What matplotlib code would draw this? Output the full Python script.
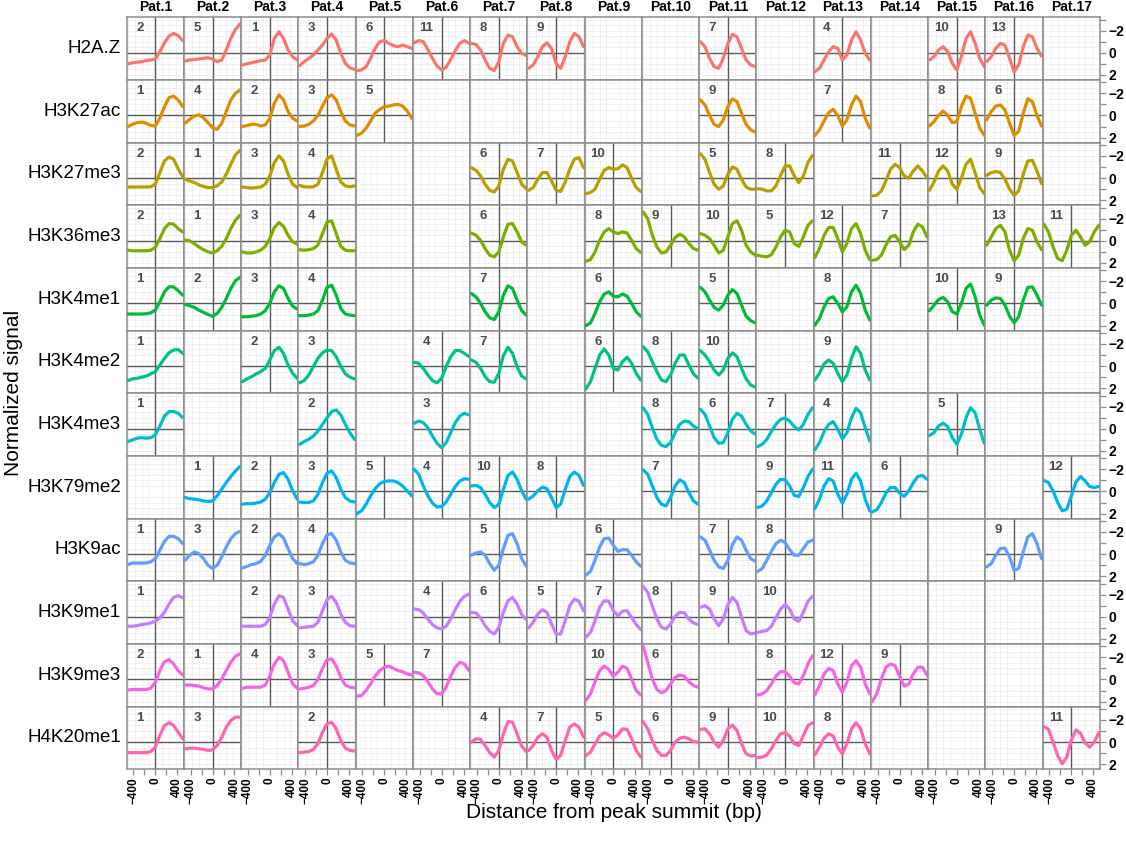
import matplotlib
matplotlib.use("Agg")
import matplotlib.pyplot as plt

plt.rcParams['font.family'] = ['Liberation Sans', 'DejaVu Sans']

# sample positions (bp) along each profile
x_bp = [-500, -417, -333, -250, -167, -83, 0, 83, 167, 250, 333, 417, 500]

patients = ['Pat.%d' % i for i in range(1, 18)]
marks = ['H2A.Z', 'H3K27ac', 'H3K27me3', 'H3K36me3', 'H3K4me1', 'H3K4me2',
         'H3K4me3', 'H3K79me2', 'H3K9ac', 'H3K9me1', 'H3K9me3', 'H4K20me1']
colors = ['#F8766D', '#DE8C00', '#B79F00', '#7CAE00', '#00BA38', '#00C08B',
          '#00BFC4', '#00B4F0', '#619CFF', '#C77CFF', '#F564E3', '#FF64B0']

# {patient: (pattern number, signal)}
h2az = {
    1: (2, [1.0, 0.9, 0.85, 0.8, 0.7, 0.65, 0.55, -0.1, -0.9, -1.5, -1.75, -1.55, -1.1]),
    2: (5, [0.75, 0.65, 0.6, 0.55, 0.5, 0.45, 0.55, 0.8, 0.65, -0.25, -1.3, -2.1, -2.6]),
    3: (1, [1.1, 1.0, 0.9, 0.8, 0.72, 0.65, 0.2, -1.3, -1.9, -1.3, -0.25, 0.35, 0.65]),
    4: (3, [1.15, 0.8, 0.5, 0.2, -0.25, -0.7, -1.3, -1.7, -1.15, 0.05, 0.95, 1.35, 1.5]),
    5: (6, [1.6, 1.55, 1.25, 0.5, -0.4, -1.0, -1.1, -0.85, -0.65, -0.55, -0.7, -0.55, -0.4]),
    6: (11, [-0.9, -1.1, -1.0, -0.3, 0.5, 1.2, 1.55, 1.3, 0.6, -0.2, -0.85, -1.1, -0.85]),
    7: (8, [-0.85, -0.75, -0.25, 0.65, 1.4, 1.6, 0.8, -0.85, -1.6, -1.45, -0.55, 0.05, 0.25]),
    8: (9, [1.4, 1.1, 0.35, -0.55, -0.9, -0.4, 0.95, 1.4, 0.35, -1.0, -1.75, -1.45, -0.55]),
    11: (7, [-1.0, -0.55, 0.5, 1.25, 1.4, 0.5, -0.85, -1.65, -1.45, -0.4, 0.65, 1.1, 1.25]),
    13: (4, [1.7, 1.4, 0.65, -0.1, -0.55, -0.4, 0.65, 0.2, -1.15, -1.9, -1.15, 0.05, 0.65]),
    15: (10, [0.65, 0.35, -0.25, -0.55, -0.1, 0.95, 1.55, 0.35, -1.3, -1.9, -0.85, 0.5, 1.25]),
    16: (13, [0.8, 0.35, -0.4, -0.85, -0.7, 0.5, 1.7, 1.1, -0.55, -1.6, -1.45, -0.4, 0.3]),
}
h3k27ac = {
    1: (1, [1.0, 0.8, 0.65, 0.6, 0.7, 0.9, 0.95, 0.25, -0.8, -1.6, -1.75, -1.4, -0.8]),
    2: (4, [0.7, 0.35, 0.05, -0.05, 0.2, 0.65, 1.1, 1.25, 0.7, -0.35, -1.4, -2.0, -2.3]),
    3: (2, [1.0, 0.9, 0.8, 0.8, 0.95, 0.85, 0.25, -1.1, -1.85, -1.4, -0.35, 0.25, 0.5]),
    4: (3, [1.0, 0.95, 0.8, 0.5, 0.0, -0.85, -1.6, -1.85, -1.4, -0.35, 0.5, 0.85, 0.95]),
    5: (5, [1.8, 1.6, 1.15, 0.5, -0.2, -0.55, -0.8, -0.85, -0.95, -1.0, -0.85, -0.4, 0.25]),
    11: (9, [-1.4, -0.95, 0.0, 0.8, 1.0, 0.4, -0.8, -1.5, -1.25, -0.2, 0.8, 1.3, 1.5]),
    13: (7, [1.8, 1.3, 0.5, -0.25, -0.55, 0.0, 0.95, 0.4, -0.95, -1.75, -1.25, 0.25, 1.15]),
    15: (8, [0.95, 0.55, 0.0, -0.4, 0.0, 0.65, 0.55, -0.8, -1.75, -1.55, -0.2, 1.15, 1.8]),
    16: (6, [0.4, -0.35, -0.85, -0.95, -0.5, 0.7, 1.8, 1.45, -0.2, -1.5, -1.25, 0.0, 0.95]),
}
h3k27me3 = {
    1: (2, [0.8, 0.8, 0.8, 0.8, 0.8, 0.78, 0.55, -0.5, -1.55, -1.9, -1.7, -0.85, -0.1]),
    2: (1, [0.1, 0.25, 0.4, 0.6, 0.75, 0.85, 0.85, 0.7, 0.35, -0.35, -1.25, -2.1, -2.5]),
    3: (3, [0.8, 0.85, 0.9, 0.85, 0.8, 0.55, -0.2, -1.4, -2.0, -1.55, -0.35, 0.55, 0.85]),
    4: (4, [0.65, 0.78, 0.8, 0.78, 0.55, -0.5, -1.75, -2.0, -0.8, 0.35, 0.7, 0.78, 0.7]),
    7: (6, [-0.95, -0.7, -0.2, 0.55, 1.1, 1.25, 0.7, -0.8, -1.7, -1.55, -0.5, 0.55, 0.95]),
    8: (7, [1.1, 0.85, 0.1, -0.5, -0.5, 0.25, 1.1, 1.2, 0.35, -0.8, -1.7, -1.85, -0.95]),
    9: (10, [1.4, 1.3, 1.0, 0.1, -0.7, -0.95, -0.8, -0.85, -1.2, -0.95, 0.0, 0.85, 1.2]),
    11: (5, [-2.2, -1.7, -0.5, 0.55, 1.0, 0.7, -0.35, -1.0, -0.8, 0.1, 0.8, 1.0, 1.0]),
    12: (8, [0.95, 1.0, 1.15, 1.15, 0.7, -0.25, -1.1, -1.1, -0.2, 0.4, -0.2, -1.4, -2.05]),
    14: (11, [1.6, 1.55, 1.15, 0.25, -0.8, -1.25, -0.95, -0.2, 0.0, -0.65, -1.1, -0.65, 0.0]),
    15: (12, [1.1, 0.35, -0.65, -1.1, -0.65, 0.55, 1.0, 0.0, -1.25, -1.7, -0.5, 0.85, 1.4]),
    16: (9, [-0.25, -0.5, -0.6, -0.5, 0.1, 1.0, 1.55, 1.15, -0.35, -1.55, -1.6, -0.65, 0.5]),
}
h3k36me3 = {
    1: (2, [0.85, 0.9, 0.9, 0.9, 0.9, 0.85, 0.6, -0.2, -1.1, -1.55, -1.5, -1.1, -0.8]),
    2: (1, [-0.05, 0.0, 0.25, 0.55, 0.8, 1.0, 1.1, 0.9, 0.5, -0.2, -1.1, -1.85, -2.3]),
    3: (3, [1.0, 1.1, 1.1, 1.0, 0.85, 0.5, -0.2, -1.2, -1.65, -1.3, -0.5, 0.1, 0.3]),
    4: (4, [0.8, 0.85, 0.8, 0.7, 0.4, -0.65, -1.7, -1.8, -0.65, 0.5, 0.85, 0.9, 0.9]),
    7: (6, [-0.7, -0.5, -0.05, 0.7, 1.3, 1.45, 1.0, -0.35, -1.5, -1.55, -0.8, 0.1, 0.4]),
    9: (8, [1.85, 1.7, 1.0, -0.05, -0.8, -1.1, -0.8, -0.65, -0.8, -0.7, -0.05, 0.7, 1.05]),
    10: (9, [-2.6, -2.0, -0.5, 0.55, 1.1, 1.0, 0.4, -0.3, -0.6, -0.35, 0.25, 0.7, 0.85]),
    11: (10, [-0.65, -0.5, -0.2, 0.4, 1.1, 0.85, -0.35, -1.55, -1.8, -0.95, 0.4, 1.0, 1.3]),
    12: (5, [1.3, 1.4, 1.45, 1.25, 0.55, -0.35, -0.95, -0.8, 0.25, 0.5, -0.35, -1.4, -1.8]),
    13: (12, [1.5, 0.7, -0.5, -1.2, -1.2, -0.2, 1.0, 0.25, -1.1, -1.55, -0.65, 0.85, 1.7]),
    14: (7, [1.75, 1.7, 1.3, 0.4, -0.35, -0.5, 0.1, 0.8, 0.4, -0.8, -1.5, -1.25, -0.35]),
    16: (13, [0.4, -0.35, -1.1, -1.4, -0.8, 0.85, 1.8, 1.3, -0.2, -1.1, -0.95, 0.1, 0.8]),
    17: (11, [-1.5, -0.8, 0.55, 1.6, 1.8, 0.85, -0.5, -0.95, -0.35, 0.4, 0.1, -0.8, -1.4]),
}
h3k4me1 = {
    1: (1, [0.95, 0.95, 0.95, 0.95, 0.93, 0.85, 0.6, -0.15, -1.05, -1.5, -1.5, -1.15, -0.75]),
    2: (2, [0.1, 0.2, 0.35, 0.6, 0.8, 1.0, 1.15, 0.9, 0.35, -0.45, -1.35, -2.05, -2.35]),
    3: (3, [1.2, 1.2, 1.15, 1.1, 0.95, 0.65, 0.0, -1.05, -1.6, -1.35, -0.45, 0.25, 0.5]),
    4: (4, [1.1, 1.1, 1.05, 0.95, 0.65, -0.3, -1.45, -1.65, -0.75, 0.45, 0.95, 1.05, 1.1]),
    7: (7, [-0.9, -0.6, 0.0, 0.75, 1.3, 1.45, 0.75, -0.75, -1.6, -1.35, -0.3, 0.65, 1.05]),
    9: (6, [2.0, 1.75, 0.9, -0.15, -0.85, -1.05, -0.65, -0.6, -0.85, -0.65, 0.0, 0.75, 1.15]),
    11: (5, [-1.45, -1.05, -0.3, 0.35, 0.6, 0.15, -0.75, -1.25, -0.9, 0.15, 1.15, 1.55, 1.75]),
    13: (8, [1.95, 1.35, 0.3, -0.45, -0.6, 0.0, 0.75, 0.3, -1.05, -1.65, -0.9, 0.6, 1.5]),
    15: (10, [0.65, 0.15, -0.35, -0.55, -0.15, 0.75, 0.95, 0.0, -1.35, -1.75, -0.6, 1.05, 1.95]),
    16: (9, [0.15, -0.3, -0.5, -0.45, 0.15, 1.15, 1.75, 1.2, -0.3, -1.45, -1.5, -0.75, 0.15]),
}
h3k4me2 = {
    1: (1, [1.3, 1.15, 1.1, 1.0, 0.9, 0.7, 0.5, -0.1, -0.7, -1.2, -1.45, -1.5, -1.15]),
    3: (2, [1.4, 1.15, 0.95, 0.7, 0.5, 0.2, -0.55, -1.4, -1.7, -1.15, -0.1, 0.65, 1.1]),
    4: (3, [1.5, 1.3, 0.8, 0.05, -0.7, -1.2, -1.45, -1.4, -0.85, 0.0, 0.7, 1.0, 1.15]),
    6: (4, [-0.35, -0.25, 0.2, 0.8, 1.3, 1.5, 1.1, 0.05, -0.85, -1.4, -1.4, -1.15, -0.85]),
    7: (7, [-0.55, -0.35, 0.2, 0.95, 1.4, 1.45, 0.65, -0.95, -1.7, -1.15, 0.05, 0.9, 1.15]),
    9: (6, [2.05, 1.4, 0.2, -1.0, -1.55, -1.0, 0.2, 0.35, -0.4, -0.8, -0.25, 0.65, 1.25]),
    10: (8, [-1.75, -1.3, -0.4, 0.5, 1.25, 1.4, 0.8, -0.25, -1.0, -1.0, -0.1, 0.7, 1.1]),
    11: (10, [-1.4, -1.0, -0.4, 0.35, 0.8, 0.35, -0.7, -1.2, -0.85, 0.2, 1.15, 1.7, 1.9]),
    13: (9, [1.25, 0.65, -0.2, -0.55, -0.25, 0.65, 1.4, 0.8, -0.7, -1.75, -1.15, 0.35, 1.25]),
}
h3k4me3 = {
    1: (1, [1.15, 1.0, 0.85, 0.8, 0.85, 0.8, 0.55, -0.25, -1.15, -1.55, -1.55, -1.4, -1.0]),
    4: (2, [1.4, 1.15, 0.95, 0.65, 0.2, -0.4, -1.0, -1.55, -1.7, -1.25, -0.4, 0.35, 0.95]),
    6: (3, [-0.5, -0.7, -0.55, -0.1, 0.65, 1.3, 1.7, 1.25, 0.35, -0.55, -1.15, -1.4, -1.25]),
    10: (8, [-1.9, -1.3, -0.1, 0.95, 1.5, 1.6, 1.25, 0.35, -0.4, -0.7, -0.65, -0.25, 0.0]),
    11: (6, [-1.75, -1.3, -0.25, 0.8, 1.3, 1.25, 0.35, -0.85, -1.4, -1.15, -0.4, 0.2, 0.5]),
    12: (7, [1.6, 1.4, 0.95, 0.25, -0.4, -0.85, -0.95, -0.7, -0.2, 0.1, -0.4, -1.3, -1.9]),
    13: (4, [1.9, 1.25, 0.25, -0.4, -0.65, 0.05, 0.9, 0.35, -1.0, -1.85, -1.45, -0.1, 1.1]),
    15: (5, [0.6, 0.35, -0.25, -0.5, -0.2, 0.8, 1.4, 0.5, -1.0, -1.9, -1.45, 0.05, 1.3]),
}
h3k79me2 = {
    2: (1, [0.55, 0.65, 0.7, 0.75, 0.85, 0.9, 0.85, 0.4, -0.2, -0.8, -1.35, -1.85, -2.25]),
    3: (2, [1.15, 1.1, 1.1, 1.05, 0.95, 0.7, 0.1, -0.8, -1.55, -1.7, -1.1, -0.05, 0.7]),
    4: (3, [0.95, 1.0, 1.0, 0.85, 0.25, -0.8, -1.65, -1.85, -1.25, -0.2, 0.55, 0.85, 0.95]),
    5: (5, [2.0, 1.75, 1.15, 0.4, -0.25, -0.7, -0.9, -0.95, -0.95, -0.8, -0.5, -0.05, 0.4]),
    6: (4, [-2.0, -1.55, -0.5, 0.4, 1.05, 1.4, 1.35, 0.95, 0.25, -0.45, -0.95, -1.15, -1.1]),
    7: (10, [-0.5, -0.55, -0.35, 0.25, 1.0, 1.45, 1.15, -0.2, -1.45, -1.75, -1.1, -0.05, 0.7]),
    8: (8, [0.7, 0.4, -0.05, -0.4, -0.25, 0.55, 1.45, 1.15, -0.2, -1.35, -1.75, -1.45, -0.55]),
    10: (7, [-1.95, -1.55, -0.5, 0.55, 1.15, 1.3, 0.55, -0.5, -1.05, -0.8, 0.1, 0.85, 1.15]),
    12: (9, [1.45, 1.3, 0.85, 0.1, -0.65, -1.1, -1.05, -0.5, 0.35, 0.45, -0.35, -1.35, -2.0]),
    13: (11, [1.55, 0.7, -0.5, -1.15, -0.95, 0.25, 1.05, 0.25, -1.1, -1.65, -0.95, 0.7, 1.75]),
    14: (6, [1.85, 1.65, 1.0, 0.15, -0.35, -0.35, 0.15, 0.45, -0.05, -0.8, -1.35, -1.45, -1.1]),
    17: (12, [-1.0, -0.8, -0.05, 1.0, 1.75, 1.6, 0.4, -0.85, -1.35, -0.95, -0.45, -0.35, -0.45]),
}
h3k9ac = {
    1: (1, [0.95, 0.8, 0.8, 0.8, 0.8, 0.7, 0.4, -0.35, -1.15, -1.6, -1.6, -1.4, -0.95]),
    2: (3, [0.55, 0.1, -0.2, -0.05, 0.4, 1.0, 1.3, 1.0, 0.25, -0.65, -1.4, -1.85, -2.05]),
    3: (2, [1.25, 1.1, 0.95, 0.85, 0.65, 0.1, -0.8, -1.55, -1.85, -1.45, -0.5, 0.4, 0.85]),
    4: (4, [0.85, 0.95, 0.85, 0.7, 0.1, -0.95, -1.75, -1.85, -1.25, -0.2, 0.55, 0.8, 0.85]),
    7: (5, [0.1, -0.1, -0.2, 0.1, 0.85, 1.45, 1.0, -0.5, -1.7, -1.85, -0.95, 0.4, 1.1]),
    9: (6, [1.9, 1.55, 0.55, -0.65, -1.4, -1.45, -0.8, -0.25, -0.4, -0.4, 0.1, 0.7, 1.1]),
    11: (7, [-1.55, -1.25, -0.35, 0.55, 1.15, 1.3, 0.55, -0.85, -1.55, -1.25, -0.35, 0.4, 0.65]),
    12: (8, [1.55, 1.3, 0.55, -0.25, -0.95, -1.25, -1.05, -0.4, 0.1, 0.1, -0.5, -1.1, -1.25]),
    16: (9, [1.15, 0.85, 0.1, -0.5, -0.55, 0.25, 1.45, 1.3, -0.2, -1.55, -1.85, -0.95, 0.4]),
}
h3k9me1 = {
    1: (1, [0.85, 0.85, 0.8, 0.7, 0.65, 0.55, 0.4, 0.1, -0.4, -1.15, -1.75, -1.9, -1.7]),
    3: (2, [0.85, 0.85, 0.85, 0.85, 0.85, 0.7, 0.05, -1.15, -1.9, -1.75, -0.7, 0.35, 0.8]),
    4: (3, [1.0, 0.95, 0.9, 0.85, 0.5, -0.55, -1.55, -1.85, -1.3, -0.25, 0.5, 0.8, 0.85]),
    6: (4, [-0.7, -0.65, -0.35, 0.2, 0.7, 1.0, 1.1, 0.85, 0.2, -0.65, -1.4, -1.85, -2.05]),
    7: (6, [-0.4, -0.35, 0.1, 0.8, 1.3, 1.55, 0.95, -0.4, -1.45, -1.75, -1.15, -0.2, 0.25]),
    8: (5, [1.0, 0.5, -0.25, -0.65, -0.4, 0.65, 1.55, 1.55, 0.35, -1.0, -1.6, -1.4, -0.55]),
    9: (7, [1.85, 1.4, 0.35, -0.85, -1.45, -1.4, -0.55, -0.1, -0.5, -0.55, 0.05, 0.7, 1.15]),
    10: (8, [-2.75, -2.2, -0.95, 0.2, 0.95, 1.1, 0.65, -0.05, -0.4, -0.35, 0.2, 0.55, 0.7]),
    11: (9, [-0.85, -1.0, -0.7, 0.2, 0.8, 0.2, -1.1, -1.75, -1.3, 0.05, 1.25, 1.55, 1.45]),
    12: (10, [1.4, 1.3, 1.25, 0.85, 0.1, -0.7, -1.1, -0.7, 0.2, 0.4, -0.4, -1.4, -1.85]),
}
h3k9me3 = {
    1: (2, [0.95, 0.9, 0.9, 0.9, 0.9, 0.8, 0.25, -0.8, -1.6, -1.8, -1.4, -0.8, -0.4]),
    2: (1, [0.5, 0.5, 0.55, 0.6, 0.75, 0.85, 0.85, 0.55, -0.05, -0.8, -1.55, -2.1, -2.3]),
    3: (4, [0.8, 0.7, 0.7, 0.7, 0.7, 0.5, -0.3, -1.4, -2.0, -1.7, -0.65, 0.4, 0.8]),
    4: (3, [0.85, 0.8, 0.7, 0.55, 0.0, -1.0, -1.8, -1.85, -1.2, -0.2, 0.5, 0.7, 0.75]),
    5: (5, [1.5, 1.45, 1.0, 0.4, -0.3, -0.8, -1.1, -1.2, -1.0, -0.8, -0.7, -0.5, -0.4]),
    6: (7, [-0.65, -0.6, -0.35, 0.2, 0.85, 1.3, 1.3, 0.7, -0.3, -1.1, -1.55, -1.4, -0.8]),
    9: (10, [1.9, 1.3, 0.2, -0.8, -1.2, -0.9, -0.3, -0.65, -1.2, -1.0, -0.05, 1.0, 1.4]),
    10: (6, [-3.0, -1.55, -0.05, 0.9, 1.2, 1.0, 0.4, -0.2, -0.4, -0.3, 0.2, 0.55, 0.7]),
    12: (8, [1.4, 1.3, 1.0, 0.4, -0.3, -0.7, -0.7, -0.3, 0.3, 0.4, -0.35, -1.4, -2.15]),
    13: (12, [1.4, 0.55, -0.5, -1.0, -0.8, 0.4, 1.15, 0.25, -1.25, -1.7, -1.1, 0.4, 1.3]),
    14: (9, [2.0, 1.3, -0.05, -1.1, -1.4, -1.25, -0.3, 0.6, 0.4, -0.5, -1.1, -1.1, -0.4]),
}
h4k20me1 = {
    1: (1, [0.95, 0.95, 0.95, 0.95, 0.95, 0.85, 0.45, -0.6, -1.5, -1.75, -1.5, -0.9, -0.3]),
    2: (3, [0.6, 0.55, 0.55, 0.6, 0.65, 0.75, 0.7, 0.3, -0.45, -1.35, -1.95, -2.25, -2.25]),
    4: (2, [0.95, 0.9, 0.85, 0.65, 0.15, -0.9, -1.65, -1.8, -1.2, -0.15, 0.55, 0.75, 0.8]),
    7: (4, [0.0, -0.3, -0.25, 0.3, 0.95, 1.35, 0.75, -0.75, -1.85, -1.8, -0.75, 0.35, 0.85]),
    8: (7, [0.75, 0.3, -0.45, -0.75, -0.45, 0.75, 1.55, 1.2, -0.15, -1.35, -1.65, -1.35, -0.45]),
    9: (5, [1.2, 0.9, 0.15, -0.55, -0.85, -0.65, -0.35, -0.65, -1.2, -1.15, -0.3, 0.75, 1.35]),
    10: (6, [-1.85, -1.2, -0.15, 0.75, 1.2, 1.2, 0.75, 0.0, -0.35, -0.45, -0.3, -0.05, 0.0]),
    11: (9, [-1.15, -1.2, -0.75, 0.0, 0.45, -0.15, -1.2, -1.55, -1.05, 0.15, 1.05, 1.25, 1.2]),
    12: (10, [1.4, 1.35, 1.15, 0.6, -0.15, -0.75, -0.85, -0.55, 0.15, 0.3, -0.6, -1.5, -1.75]),
    13: (8, [1.15, 0.45, -0.35, -0.75, -0.55, 0.45, 1.05, 0.15, -1.2, -1.75, -1.2, 0.15, 1.05]),
    17: (11, [-1.4, -1.15, 0.0, 1.2, 1.95, 1.35, -0.2, -1.1, -0.8, 0.05, 0.45, 0.0, -0.85]),
}

rows = [h2az, h3k27ac, h3k27me3, h3k36me3, h3k4me1, h3k4me2,
        h3k4me3, h3k79me2, h3k9ac, h3k9me1, h3k9me3, h4k20me1]

x_ticks = [-400, -200, 0, 200, 400]
x_ticklabels = ['\u2212400', '', '0', '', '400']
y_ticks = [-3, -2, -1, 0, 1, 2]
y_ticklabels = ['', '\u22122', '', '0', '', '2']
grid_x = [-500, -375, -250, -125, 125, 250, 375, 500]
grid_y = [-3, -2.5, -2, -1.5, -1, -0.5, 0.5, 1, 1.5, 2]

fig, axes = plt.subplots(12, 17, figsize=(11.26, 8.44), dpi=100)
fig.subplots_adjust(left=0.1125, right=0.9769, top=0.9795, bottom=0.0885,
                    wspace=0, hspace=0)

for r in range(12):
    data = rows[r]
    for c in range(17):
        ax = axes[r, c]
        ax.set_xlim(-522, 522)
        ax.set_ylim(2.45, -3.2)
        for gx in grid_x:
            ax.axvline(gx, color='#ebebeb', lw=0.5, zorder=0)
        for gy in grid_y:
            ax.axhline(gy, color='#ebebeb', lw=0.5, zorder=0)
        pat = c + 1
        if pat in data:
            num, sig = data[pat]
            ax.axhline(0, color='#5a5a5a', lw=1.0, zorder=1)
            ax.axvline(0, color='#5a5a5a', lw=1.0, zorder=1)
            ax.plot(x_bp, sig, color=colors[r], lw=2.3, solid_capstyle='round',
                    solid_joinstyle='round', zorder=3)
            ax.text(0.23, 0.825, str(num), transform=ax.transAxes, ha='center',
                    va='center', fontsize=9.5, fontweight='bold', color='#4a4a4a')
        for sp in ax.spines.values():
            sp.set_color('#8c8c8c')
            sp.set_linewidth(1.1)

        ax.set_xticks(x_ticks)
        ax.set_yticks(y_ticks)
        if r == 11:
            ax.set_xticklabels(x_ticklabels, rotation=90, fontsize=8.5,
                               fontweight='bold')
        ax.tick_params(axis='x', top=False, bottom=(r == 11),
                       labelbottom=(r == 11), length=4, width=0.9,
                       color='#8c8c8c', pad=2)
        if c == 16:
            ax.set_yticklabels(y_ticklabels, fontsize=10, fontweight='bold')
        ax.tick_params(axis='y', left=False, labelleft=False, right=(c == 16),
                       labelright=(c == 16), length=4, width=0.9,
                       color='#8c8c8c', pad=2)

        if r == 0:
            ax.text(0.5, 1.105, patients[c], transform=ax.transAxes, ha='center',
                    va='baseline', fontsize=10, fontweight='bold')
    axes[r, 0].text(-0.1, 0.5, marks[r], transform=axes[r, 0].transAxes,
                    ha='right', va='center', fontsize=13.5)

fig.text(0.012, 0.534, 'Normalized signal', rotation=90, ha='center',
         va='center', fontsize=15)
fig.text(0.5448, 0.037, 'Distance from peak summit (bp)', ha='center',
         va='center', fontsize=15)

fig.savefig('out.png', dpi=100)
